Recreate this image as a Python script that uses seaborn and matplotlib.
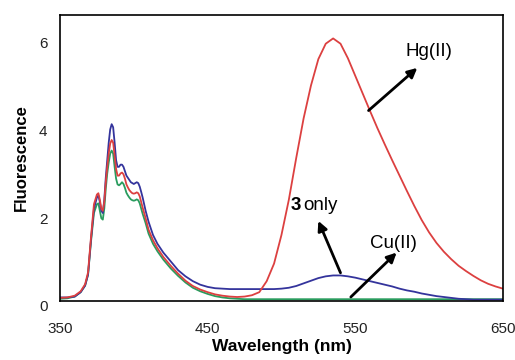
import pandas as pd
import seaborn as sns
import matplotlib.pyplot as plt
from matplotlib.transforms import ScaledTranslation

# emission spectra
wavelength = [350, 355, 360, 364, 367, 369, 371, 373, 375, 376, 377, 378, 379, 380,
              381, 382, 383, 384, 385, 386, 387, 388, 389, 390, 391, 392, 393, 394,
              395, 396, 397, 398, 399, 400, 401, 402, 403, 404, 405, 406, 408, 410,
              413, 416, 420, 425, 430, 435, 440, 445, 450, 455, 460, 465, 470, 475,
              480, 485, 490, 495, 500, 505, 510, 515, 520, 525, 530, 535, 540, 545,
              550, 555, 560, 565, 570, 575, 580, 585, 590, 595, 600, 605, 610, 615,
              620, 625, 630, 635, 640, 645, 650]

only3 = [0.08, 0.08, 0.10, 0.20, 0.35, 0.60, 1.40, 2.10, 2.35, 2.40, 2.25, 2.05, 2.00, 2.30,
         2.80, 3.20, 3.60, 3.90, 4.02, 3.95, 3.60, 3.20, 3.05, 3.05, 3.10, 3.10, 3.05, 2.95,
         2.85, 2.80, 2.75, 2.70, 2.68, 2.66, 2.68, 2.70, 2.68, 2.60, 2.48, 2.35, 2.05, 1.80,
         1.50, 1.30, 1.10, 0.90, 0.70, 0.56, 0.45, 0.37, 0.32, 0.29, 0.28, 0.27, 0.27, 0.27,
         0.27, 0.27, 0.27, 0.27, 0.28, 0.30, 0.34, 0.40, 0.46, 0.52, 0.56, 0.58, 0.58, 0.56,
         0.53, 0.49, 0.45, 0.41, 0.37, 0.33, 0.28, 0.24, 0.21, 0.17, 0.14, 0.11, 0.09, 0.07,
         0.05, 0.04, 0.03, 0.03, 0.03, 0.03, 0.03]

hg = [0.07, 0.08, 0.12, 0.22, 0.38, 0.65, 1.45, 2.20, 2.42, 2.45, 2.30, 2.10, 2.05, 2.25,
      2.70, 3.05, 3.35, 3.58, 3.66, 3.60, 3.30, 3.00, 2.85, 2.85, 2.90, 2.92, 2.88, 2.78,
      2.65, 2.58, 2.52, 2.48, 2.45, 2.44, 2.45, 2.47, 2.45, 2.38, 2.25, 2.12, 1.88, 1.62,
      1.38, 1.20, 1.00, 0.80, 0.62, 0.46, 0.34, 0.26, 0.20, 0.15, 0.12, 0.10, 0.09, 0.10,
      0.13, 0.20, 0.45, 0.85, 1.50, 2.30, 3.25, 4.15, 4.90, 5.50, 5.85, 5.97, 5.85, 5.52,
      5.12, 4.72, 4.32, 3.93, 3.56, 3.20, 2.85, 2.50, 2.16, 1.84, 1.56, 1.32, 1.12, 0.95,
      0.80, 0.68, 0.57, 0.47, 0.39, 0.33, 0.28]

cu = [0.05, 0.06, 0.10, 0.20, 0.35, 0.60, 1.35, 2.00, 2.20, 2.22, 2.05, 1.88, 1.85, 2.10,
      2.55, 2.90, 3.15, 3.35, 3.42, 3.35, 3.05, 2.78, 2.65, 2.63, 2.66, 2.70, 2.66, 2.57,
      2.46, 2.40, 2.35, 2.31, 2.29, 2.28, 2.29, 2.31, 2.29, 2.22, 2.10, 1.98, 1.77, 1.53,
      1.30, 1.13, 0.94, 0.74, 0.57, 0.42, 0.30, 0.22, 0.16, 0.11, 0.08, 0.06, 0.05, 0.04,
      0.04, 0.04, 0.04, 0.04, 0.04, 0.04, 0.04, 0.04, 0.04, 0.04, 0.04, 0.04, 0.04, 0.04,
      0.04, 0.04, 0.04, 0.04, 0.04, 0.04, 0.04, 0.04, 0.04, 0.04, 0.04, 0.04, 0.04, 0.04,
      0.04, 0.04, 0.04, 0.04, 0.04, 0.04, 0.04]

series_names = ['Cu(II)', '3 only', 'Hg(II)']
colors = {'Cu(II)': '#2a9c5e', '3 only': '#34349c', 'Hg(II)': '#dc4040'}

df = pd.concat([
    pd.DataFrame({'Wavelength': wavelength, 'Fluorescence': cu, 'Sample': 'Cu(II)'}),
    pd.DataFrame({'Wavelength': wavelength, 'Fluorescence': only3, 'Sample': '3 only'}),
    pd.DataFrame({'Wavelength': wavelength, 'Fluorescence': hg, 'Sample': 'Hg(II)'}),
])

sns.set_style('white')
plt.rcParams['font.family'] = ['Liberation Sans', 'DejaVu Sans']
plt.rcParams['text.color'] = 'black'
plt.rcParams['axes.labelcolor'] = 'black'

fig = plt.figure(figsize=(5.15, 3.6), dpi=100)
ax = fig.add_axes([0.1165, 0.164, 0.860, 0.794])

sns.lineplot(data=df, x='Wavelength', y='Fluorescence', hue='Sample',
             hue_order=series_names, palette=colors, linewidth=1.3,
             legend=False, ax=ax, sort=False)

ax.set_xlim(350, 650)
ax.set_ylim(0, 6.5)
ax.set_xticks([350, 450, 550, 650])
ax.set_yticks([0, 2, 4, 6])
ax.tick_params(axis='both', direction='in', length=4, width=1, labelsize=11,
               colors='black', labelcolor='#222222')
ax.tick_params(axis='x', pad=15)
ax.tick_params(axis='y', pad=9)
for lab in ax.get_yticklabels():
    lab.set_transform(lab.get_transform() + ScaledTranslation(0, -0.05, fig.dpi_scale_trans))
for sp in ax.spines.values():
    sp.set_color('black')
    sp.set_linewidth(1.2)

ax.set_xlabel('Wavelength (nm)', fontsize=12.5, fontweight='bold', labelpad=2)
ax.set_ylabel('Fluorescence', fontsize=12, fontweight='bold', labelpad=7)

arrow = dict(arrowstyle='-|>', color='black', lw=2, mutation_scale=14, shrinkA=0, shrinkB=0)
ax.annotate('', xy=(592, 5.3), xytext=(559, 4.33), arrowprops=arrow)
ax.annotate('', xy=(525, 1.82), xytext=(540, 0.64), arrowprops=arrow)
ax.annotate('', xy=(578, 1.1), xytext=(547, 0.09), arrowprops=arrow)

ax.text(600, 5.68, 'Hg(II)', fontsize=13.5, ha='center', va='center')
ax.text(576, 1.3, 'Cu(II)', fontsize=13.5, ha='center', va='center')
ax.text(513, 2.18, '3', fontsize=13.5, fontweight='bold', ha='right', va='center')
ax.text(515, 2.18, 'only', fontsize=13.5, ha='left', va='center')

plt.savefig('out.png', dpi=100)
